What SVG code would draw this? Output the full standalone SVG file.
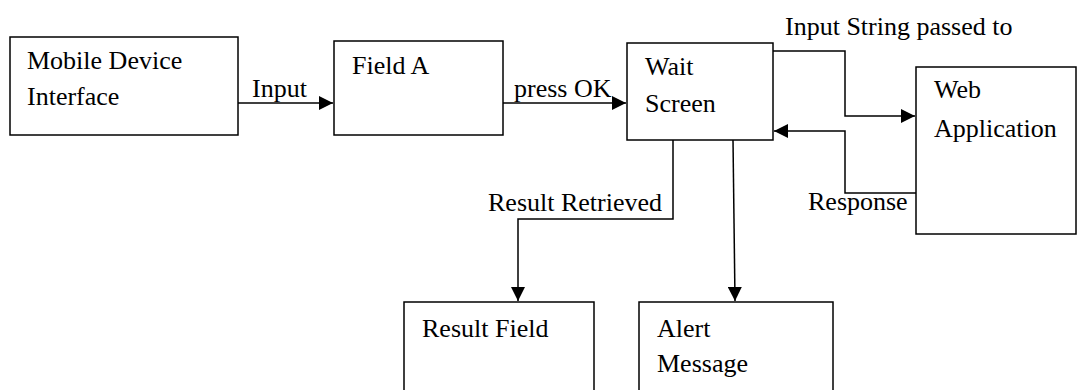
<svg xmlns="http://www.w3.org/2000/svg" width="1077" height="390" viewBox="0 0 1077 390">
<style>
.box{fill:#fff;stroke:#000;stroke-width:1.5}
.c{fill:none;stroke:#000;stroke-width:1.5}
</style>
<defs>
<marker id="ah" viewBox="0 0 10 10" refX="10" refY="5" markerWidth="14" markerHeight="14" markerUnits="userSpaceOnUse" orient="auto">
<path d="M0,0 L10,5 L0,10 z" fill="#000"/>
</marker>
</defs>
<rect width="1077" height="390" fill="#fff"/>
<g font-family="Liberation Serif, DejaVu Serif, serif" font-size="26" fill="#000">
<g id="mobile"><rect class="box" x="10" y="37" width="228" height="98"/><text x="27" y="69">Mobile Device</text><text x="27" y="105">Interface</text></g>
<g id="fieldA"><rect class="box" x="334" y="41" width="169" height="94"/><text x="352" y="74">Field A</text></g>
<g id="wait"><rect class="box" x="627" y="43" width="146" height="97"/><text x="645" y="75">Wait</text><text x="645" y="112">Screen</text></g>
<g id="webapp"><rect class="box" x="916" y="67" width="160" height="167"/><text x="934" y="98">Web</text><text x="934" y="137">Application</text></g>
<g id="result"><rect class="box" x="404" y="302" width="190" height="100"/><text x="422" y="337">Result Field</text></g>
<g id="alert"><rect class="box" x="639" y="302" width="194" height="100"/><text x="657" y="337">Alert</text><text x="657" y="372">Message</text></g>
<g id="connectors">
<path class="c" d="M238,103 H333" marker-end="url(#ah)"/>
<path class="c" d="M503,103 H626" marker-end="url(#ah)"/>
<path class="c" d="M773,51 H845 V116 H915" marker-end="url(#ah)"/>
<path class="c" d="M916,193 H845 V131 H774" marker-end="url(#ah)"/>
<path class="c" d="M673,140 V219 H518 V301" marker-end="url(#ah)"/>
<path class="c" d="M733,140 L735,301" marker-end="url(#ah)"/>
<text x="252" y="97">Input</text>
<text x="514" y="97">press OK</text>
<text x="785" y="35">Input String passed to</text>
<text x="808" y="210">Response</text>
<text x="488" y="211">Result Retrieved</text>
</g>
</g>
</svg>
